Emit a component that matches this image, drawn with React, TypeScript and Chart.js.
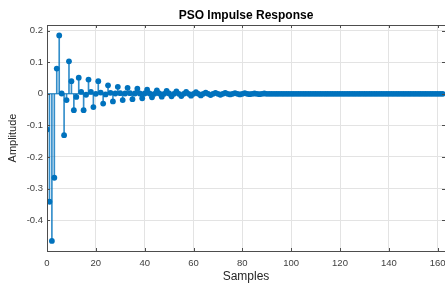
import React, { useEffect, useRef } from "react";
import { Chart, registerables } from "chart.js";

Chart.register(...registerables);

const TITLE = "PSO Impulse Response";
const X_LABEL = "Samples";
const Y_LABEL = "Amplitude";
const X_TICKS = [0, 20, 40, 60, 80, 100, 120, 140, 160];
const Y_TICKS = [0.2, 0.1, 0, -0.1, -0.2, -0.3, -0.4];
const X_MIN = 0;
const X_MAX = 163;
const Y_MIN = -0.498;
const Y_MAX = 0.218;

// impulse response values, sample n = index
const RESPONSE = [
  -0.113, -0.342, -0.466, -0.266, 0.08, 0.185, 0.001, -0.131, -0.02, 0.103,
  0.04, -0.052, -0.01, 0.051, 0.006, -0.052, -0.003, 0.045, 0.006, -0.042,
  0.0, 0.04, 0.004, -0.031, -0.002, 0.027, 0.003, -0.024, 0.001, 0.022,
  0.002, -0.02, 0.001, 0.019, 0.002, -0.017, 0.001, 0.016, 0.001, -0.014,
  0.001, 0.013, 0.001, -0.011, 0.0, 0.011, 0.001, -0.009, 0.0, 0.009,
  0.001, -0.008, 0.0, 0.008, 0.0, -0.007, 0.0, 0.006, 0.0, -0.006,
  0.0, 0.005, 0.0, -0.005, 0.0, 0.004, 0.0, -0.004, 0.0, 0.003,
  0.0, -0.003, 0.0, 0.003, 0.0, -0.002, 0.0, 0.002, 0.0, -0.002,
  0.0, 0.002, 0.0, -0.001, 0.0, 0.001, 0.0, -0.001, 0.0, 0.001,
  0.0, 0.0, 0.0, 0.0, 0.0, 0.0, 0.0, 0.0, 0.0, 0.0,
  0.0, 0.0, 0.0, 0.0, 0.0, 0.0, 0.0, 0.0, 0.0, 0.0,
  0.0, 0.0, 0.0, 0.0, 0.0, 0.0, 0.0, 0.0, 0.0, 0.0,
  0.0, 0.0, 0.0, 0.0, 0.0, 0.0, 0.0, 0.0, 0.0, 0.0,
  0.0, 0.0, 0.0, 0.0, 0.0, 0.0, 0.0, 0.0, 0.0, 0.0,
  0.0, 0.0, 0.0, 0.0, 0.0, 0.0, 0.0, 0.0, 0.0, 0.0,
  0.0, 0.0, 0.0, 0.0, 0.0, 0.0, 0.0, 0.0, 0.0, 0.0,
  0.0, 0.0, 0.0,
];

const BLUE = "#0072BD";
const AXIS_COLOR = "#4d4d4d";
const GRID_COLOR = "#e3e3e3";
const FONT = "'Liberation Sans', Arial, Helvetica, sans-serif";

const boxPlugin = {
  id: "matlabBox",
  beforeDatasetsDraw(chart: any) {
    const { ctx, chartArea, scales } = chart;
    const y0 = scales.y.getPixelForValue(0);
    ctx.save();
    ctx.strokeStyle = BLUE;
    ctx.lineWidth = 1;
    ctx.beginPath();
    ctx.moveTo(chartArea.left, y0);
    ctx.lineTo(chartArea.right, y0);
    ctx.stroke();
    ctx.restore();
  },
  afterDraw(chart: any) {
    const { ctx, chartArea, scales } = chart;
    const { left, right, top, bottom } = chartArea;
    ctx.save();
    ctx.strokeStyle = AXIS_COLOR;
    ctx.lineWidth = 1;
    ctx.strokeRect(Math.round(left) + 0.5, Math.round(top) + 0.5, Math.round(right - left), Math.round(bottom - top));
    ctx.beginPath();
    const tl = 3;
    for (const v of X_TICKS) {
      const x = Math.round(scales.x.getPixelForValue(v)) + 0.5;
      ctx.moveTo(x, bottom);
      ctx.lineTo(x, bottom - tl);
      ctx.moveTo(x, top);
      ctx.lineTo(x, top + tl);
    }
    for (const v of Y_TICKS) {
      const y = Math.round(scales.y.getPixelForValue(v)) + 0.5;
      ctx.moveTo(left, y);
      ctx.lineTo(left + tl, y);
      ctx.moveTo(right, y);
      ctx.lineTo(right - tl, y);
    }
    ctx.stroke();
    ctx.restore();
  },
};

export default function App() {
  const ref = useRef<HTMLCanvasElement | null>(null);

  useEffect(() => {
    document.body.style.margin = "0";
    const canvas = ref.current;
    if (!canvas) return;
    const points = RESPONSE.map((v, i) => ({ x: i, y: v }));
    const chart = new Chart(canvas, {
      type: "scatter",
      data: {
        datasets: [
          {
            type: "bar",
            data: points,
            backgroundColor: "rgba(0,114,189,0.8)",
            borderWidth: 0,
            barThickness: 1,
            order: 2,
          } as any,
          {
            type: "scatter",
            data: points,
            pointRadius: 2.9,
            pointBackgroundColor: BLUE,
            pointBorderColor: BLUE,
            pointBorderWidth: 0,
            order: 1,
          },
        ],
      },
      options: {
        animation: false,
        responsive: false,
        maintainAspectRatio: false,
        layout: { padding: 0, autoPadding: false } as any,
        plugins: {
          legend: { display: false },
          tooltip: { enabled: false },
          title: {
            display: true,
            fullSize: false,
            text: TITLE,
            color: "#000",
            font: { family: FONT, size: 12, weight: "bold" },
            padding: { top: 8, bottom: 2.6 },
          },
        },
        scales: {
          x: {
            type: "linear",
            min: X_MIN,
            max: X_MAX,
            offset: false,
            afterBuildTicks: (s: any) => {
              s.ticks = X_TICKS.map((v) => ({ value: v }));
            },
            afterFit: (s: any) => {
              s.height = 33;
              s.paddingLeft = 0;
              s.paddingRight = 0;
            },
            grid: { color: GRID_COLOR, drawTicks: false, offset: false },
            border: { display: false },
            ticks: {
              color: "#404040",
              font: { family: FONT, size: 9.5 },
              padding: 7,
              maxRotation: 0,
              autoSkip: false,
              callback: (v: any) => String(v),
            },
            title: {
              display: true,
              text: X_LABEL,
              color: "#262626",
              font: { family: FONT, size: 12 },
              padding: { top: 0, bottom: 0 },
            },
          },
          y: {
            type: "linear",
            min: Y_MIN,
            max: Y_MAX,
            afterBuildTicks: (s: any) => {
              s.ticks = Y_TICKS.map((v) => ({ value: v }));
            },
            afterFit: (s: any) => {
              s.width = 47;
              s.paddingTop = 0;
              s.paddingBottom = 0;
            },
            grid: { color: GRID_COLOR, drawTicks: false },
            border: { display: false },
            ticks: {
              color: "#404040",
              font: { family: FONT, size: 9.5 },
              padding: 4,
              autoSkip: false,
              callback: (v: any) => String(Math.round(v * 10) / 10),
            },
            title: {
              display: true,
              text: Y_LABEL,
              color: "#262626",
              font: { family: FONT, size: 11 },
              padding: { top: 6, bottom: 0 },
            },
          },
        },
      },
      plugins: [boxPlugin],
    });
    return () => chart.destroy();
  }, []);

  return (
    <div style={{ width: 445, height: 284, background: "#fff", overflow: "hidden" }}>
      <canvas ref={ref} width={445} height={284} style={{ display: "block" }} />
    </div>
  );
}
